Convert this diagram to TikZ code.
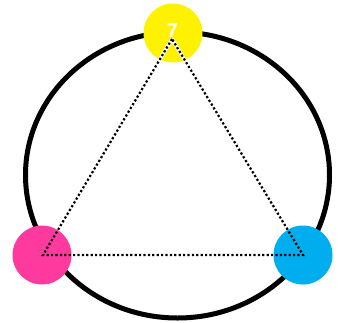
\documentclass[tikz,border=0pt]{standalone}
\usepackage{fontspec}
\setmainfont{Liberation Sans}
\begin{document}
\begin{tikzpicture}[x=1pt,y=-1pt,
  ring/.style={draw=black,line width=5pt},
  dot/.style={circle,minimum size=59pt,inner sep=0pt,draw=none},
  dotline/.style={black,line width=2.2pt,dash pattern=on 2.2pt off 2.2pt},
  halo/.style={white,line width=3.6pt}]
\definecolor{cyy}{HTML}{FFF200}
\definecolor{cpk}{HTML}{FF3A9E}
\definecolor{cbl}{HTML}{00AEEF}
\useasboundingbox (0,0) rectangle (345,322);
\draw[ring] (177.5,175) ellipse [x radius=152, y radius=143];
\node[dot,fill=cyy] (Y) at (173,33) {};
\node[dot,fill=cpk] (P) at (42,255) {};
\node[dot,fill=cbl] (B) at (303,255) {};
\coordinate (vt) at (172,39);
\coordinate (vl) at (43,255);
\coordinate (vr) at (303,255);
\node[text=white,font=\bfseries\fontsize{20}{20}\selectfont,inner sep=0pt] (seven) at (172.5,31) {7};
\begin{scope}
\clip (173,33) circle (29.5);
\draw[halo] (vt) -- (vl);
\draw[halo] (vt) -- (vr);
\end{scope}
\draw[dotline] (vt) -- (vl) -- (vr) -- cycle;
\end{tikzpicture}
\end{document}
